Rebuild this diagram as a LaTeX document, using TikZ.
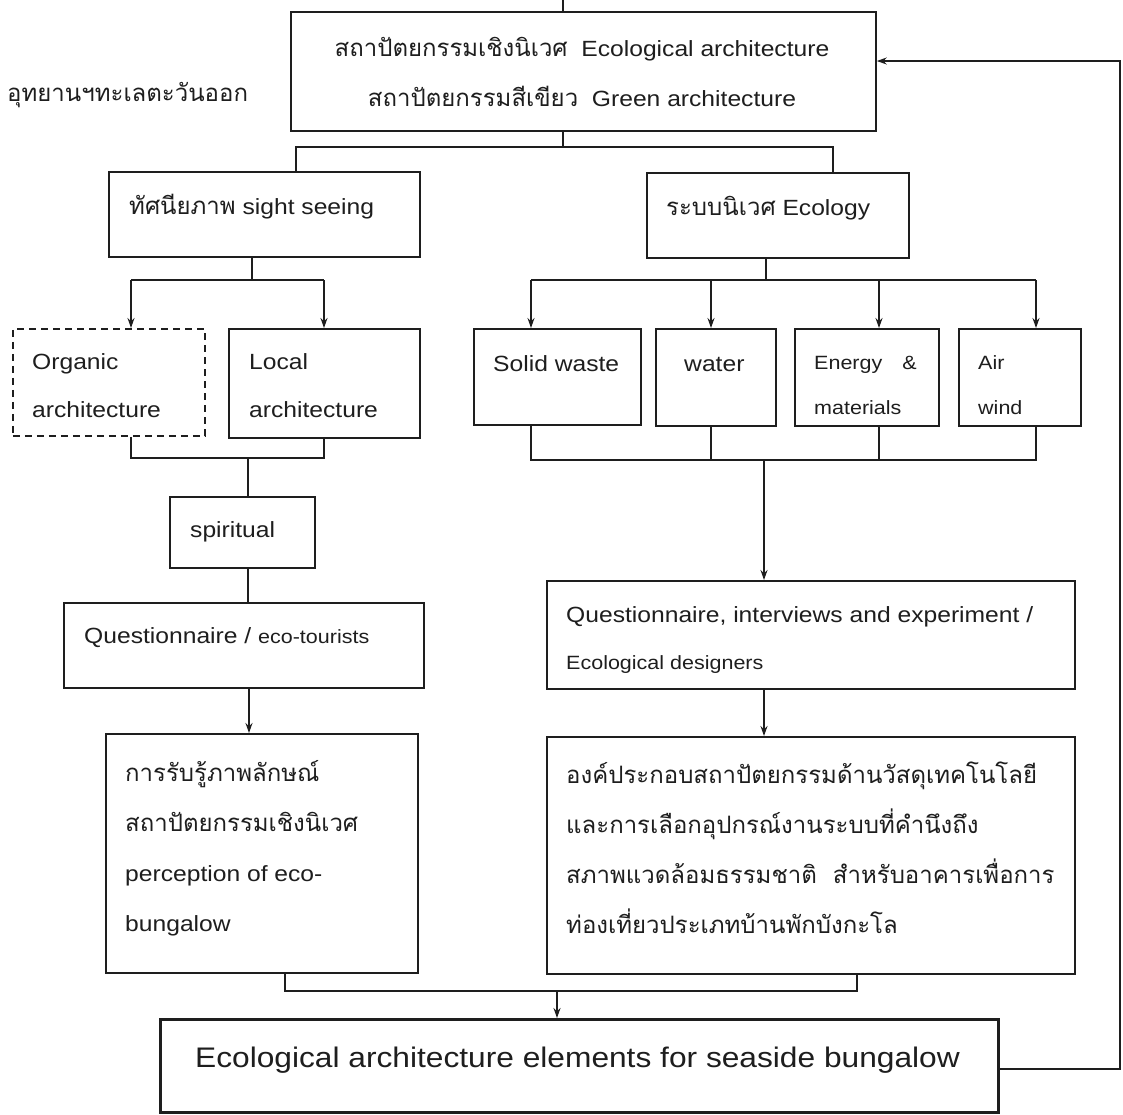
\documentclass[tikz,border=0pt]{standalone}
\usepackage{fontspec}
\setmainfont{Liberation Sans}[FakeStretch=1.12]
\newfontfamily\thaif[Script=Thai,Scale=1.09]{Loma}
\usetikzlibrary{arrows.meta}
\definecolor{ink}{HTML}{1E1E1E}
\newcommand\thw[1]{{\thaif #1}}
\tikzset{
  box/.style={draw=ink, line width=1.8pt, inner sep=0pt, anchor=north west},
  dbox/.style={box, dash pattern=on 7pt off 5pt},
  bbox/.style={box, line width=3.2pt},
  txt/.style={inner sep=0pt, text=ink, align=left, anchor=west, font=\fontsize{22}{50}\selectfont},
  conn/.style={draw=ink, line width=1.5pt},
  arr/.style={conn, -{Stealth[length=10pt,width=7pt]}}
}
\begin{document}
\begin{tikzpicture}[x=1pt,y=-1pt]
\fill[white] (0,0) rectangle (1123,1114);
\useasboundingbox (0,0) rectangle (1123,1114);
% boxes
\node[box, minimum width=585pt, minimum height=119pt] (top) at (290,11) {};
\node[box, minimum width=311pt, minimum height=85pt] (sight) at (108,171) {};
\node[box, minimum width=262pt, minimum height=85pt] (eco) at (646,172) {};
\node[dbox, minimum width=192pt, minimum height=107pt] (org) at (12,328) {};
\node[box, minimum width=191pt, minimum height=109pt] (loc) at (228,328) {};
\node[box, minimum width=167pt, minimum height=96pt] (sw) at (473,328) {};
\node[box, minimum width=120pt, minimum height=97pt] (wat) at (655,328) {};
\node[box, minimum width=144pt, minimum height=97pt] (ene) at (794,328) {};
\node[box, minimum width=122pt, minimum height=97pt] (air) at (958,328) {};
\node[box, minimum width=145pt, minimum height=71pt] (spi) at (169,496) {};
\node[box, minimum width=360pt, minimum height=85pt] (ql) at (63,602) {};
\node[box, minimum width=528pt, minimum height=108pt] (qr) at (546,580) {};
\node[box, minimum width=312pt, minimum height=239pt] (per) at (105,733) {};
\node[box, minimum width=528pt, minimum height=237pt] (thb) at (546,736) {};
\node[bbox, minimum width=838pt, minimum height=93pt] (bot) at (159,1018) {};
% texts
\node[txt, anchor=center, align=center] (ttop) at (582,72) {\thw{สถาปัตยกรรมเชิงนิเวศ}\ \ Ecological architecture\\ \thw{สถาปัตยกรรมสีเขียว}\ \ Green architecture};
\node[txt] (tleft) at (7,95) {\thw{อุทยานฯทะเลตะวันออก}};
\node[txt] (tsight) at (129,207) {\thw{ทัศนียภาพ} sight seeing};
\node[txt] (teco) at (666,208) {\thw{ระบบนิเวศ} Ecology};
\node[txt, font=\fontsize{22}{48}\selectfont] (torg) at (32,386) {Organic\\architecture};
\node[txt, font=\fontsize{22}{48}\selectfont] (tloc) at (249,386) {Local\\architecture};
\node[txt] (tsw) at (493,364) {Solid waste};
\node[txt] (twat) at (684,364) {water};
\node[txt, font=\fontsize{19.2}{45}\selectfont] (tene) at (814,385) {Energy\hspace{20pt}\&\\materials};
\node[txt, font=\fontsize{19.2}{45}\selectfont] (tair) at (978,385) {Air\\wind};
\node[txt] (tspi) at (190,532) {spiritual};
\node[txt] (tql) at (84,638) {Questionnaire / {\fontsize{19.2}{46}\selectfont eco-tourists}};
\node[txt, font=\fontsize{22}{47}\selectfont] (tqr) at (566,640) {Questionnaire, interviews and experiment /\\{\fontsize{19.2}{47}\selectfont Ecological designers}};
\node[txt] (tper) at (125,848) {\thw{การรับรู้ภาพลักษณ์}\\ \thw{สถาปัตยกรรมเชิงนิเวศ}\\ perception of eco-\\ bungalow};
\node[txt] (tthb) at (566,848) {\thw{องค์ประกอบสถาปัตยกรรมด้านวัสดุเทคโนโลยี}\\ \thw{และการเลือกอุปกรณ์งานระบบที่คำนึงถึง}\\ \thw{สภาพแวดล้อมธรรมชาติ\ \ สำหรับอาคารเพื่อการ}\\ \thw{ท่องเที่ยวประเภทบ้านพักบังกะโล}};
\node[txt, font=\fontsize{28.3}{34}\selectfont] (tbot) at (195,1060) {Ecological architecture elements for seaside bungalow};
% junction coordinates
\coordinate (in0) at (563,0);
\coordinate (j1) at (563,147);
\coordinate (j1a) at (296,147);
\coordinate (j1b) at (833,147);
\coordinate (j2) at (252,280);
\coordinate (j2a) at (131,280);
\coordinate (j2b) at (324,280);
\coordinate (j3) at (766,280);
\coordinate (j3a) at (531,280);
\coordinate (j3b) at (711,280);
\coordinate (j3c) at (879,280);
\coordinate (j3d) at (1036,280);
\coordinate (j4) at (248,458);
\coordinate (j4a) at (131,458);
\coordinate (j4b) at (324,458);
\coordinate (j4c) at (249,700);
\coordinate (j5) at (764,460);
\coordinate (j5a) at (531,460);
\coordinate (j5b) at (711,460);
\coordinate (j5c) at (879,460);
\coordinate (j5d) at (1036,460);
\coordinate (j6) at (557,991);
\coordinate (j6a) at (285,991);
\coordinate (j6b) at (857,991);
\coordinate (fb1) at (1120,1069);
\coordinate (fb2) at (1120,61);
% connectors
\draw[conn] (in0) -- (top.north -| in0);
\draw[conn] (top.south -| j1) -- (j1);
\draw[conn] (sight.north -| j1a) -- (j1a) -- (j1b) -- (eco.north -| j1b);
\draw[conn] (sight.south -| j2) -- (j2);
\draw[conn] (j2a) -- (j2b);
\draw[arr] (j2a) -- (org.north -| j2a);
\draw[arr] (j2b) -- (loc.north -| j2b);
\draw[conn] (eco.south -| j3) -- (j3);
\draw[conn] (j3a) -- (j3d);
\draw[arr] (j3a) -- (sw.north -| j3a);
\draw[arr] (j3b) -- (wat.north -| j3b);
\draw[arr] (j3c) -- (ene.north -| j3c);
\draw[arr] (j3d) -- (air.north -| j3d);
\draw[conn] (org.south -| j4a) -- (j4a) -- (j4b) -- (loc.south -| j4b);
\draw[conn] (j4) -- (spi.north -| j4);
\draw[conn] (spi.south -| j4) -- (ql.north -| j4);
\draw[arr] (ql.south -| j4c) -- (per.north -| j4c);
\draw[conn] (sw.south -| j5a) -- (j5a) -- (j5d) -- (air.south -| j5d);
\draw[conn] (wat.south -| j5b) -- (j5b);
\draw[conn] (ene.south -| j5c) -- (j5c);
\draw[arr] (j5) -- (qr.north -| j5);
\draw[arr] (qr.south -| j5) -- (thb.north -| j5);
\draw[conn] (per.south -| j6a) -- (j6a) -- (j6b) -- (thb.south -| j6b);
\draw[arr] (j6) -- (bot.north -| j6);
\draw[arr] (bot.east |- fb1) -- (fb1) -- (fb2) -- (top.east |- fb2);
\end{tikzpicture}
\end{document}
